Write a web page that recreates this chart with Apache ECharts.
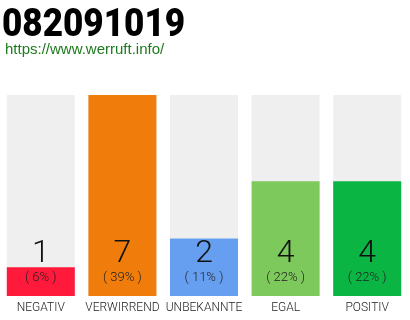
<!DOCTYPE html>
<html><head><meta charset="utf-8">
<script src="https://cdn.jsdelivr.net/npm/echarts@6/dist/echarts.min.js"></script>
<style>html,body{margin:0;padding:0;background:#fff}#c{width:410px;height:320px}</style>
</head><body><div id="c"></div>
<script>
const titleText = "082091019";
const subtitleText = "https://www.werruft.info/";
const categories = ["NEGATIV", "VERWIRREND", "UNBEKANNTE", "EGAL", "POSITIV"];
const counts = [1, 7, 2, 4, 4];
const percents = ["6%", "39%", "11%", "22%", "22%"];
const colors = ["#ff1a3c", "#f07d0b", "#679ff0", "#7ec95c", "#0ab543"];

const chart = echarts.init(document.getElementById('c'), null, {renderer: 'canvas'});
chart.setOption({
  animation: false,
  graphic: [{
    type: 'text', x: 2, y: 7, scaleX: 0.9, scaleY: 1,
    style: {text: titleText, fontFamily: "Roboto", fontWeight: 900, fontSize: 39, fill: "#000", textVerticalAlign: 'top'}
  }],
  title: [{
    text: subtitleText, left: 5, top: 42, padding: 0,
    textStyle: {fontFamily: "Liberation Sans", fontWeight: "normal", fontSize: 15, color: "#1d7a1d"}
  }],
  grid: {left: -2, width: 410, top: 95, bottom: 24, containLabel: false},
  xAxis: {
    type: 'category', data: categories,
    axisLine: {show: false}, axisTick: {show: false},
    axisLabel: {interval: 0, fontFamily: "Roboto", fontWeight: 300, fontSize: 12, color: "#222", margin: 6}
  },
  yAxis: {type: 'value', min: 0, max: Math.max(...counts), show: false, splitLine: {show: false}},
  series: [{
    type: 'bar', barWidth: 68,
    data: counts.map((v, i) => ({value: v, itemStyle: {color: colors[i]}})),
    showBackground: true, backgroundStyle: {color: "#efefef"},
    label: {
      show: true, position: 'insideBottom', distance: 10,
      formatter: p => "{n|" + p.value + "}\n{p|( " + percents[p.dataIndex] + " )}",
      rich: {
        n: {fontFamily: "Roboto", fontWeight: 300, fontSize: 32, color: "#111", lineHeight: 32},
        p: {fontFamily: "Roboto", fontWeight: 300, fontSize: 13, color: "#222", lineHeight: 16}
      }
    }
  }]
});
</script></body></html>
